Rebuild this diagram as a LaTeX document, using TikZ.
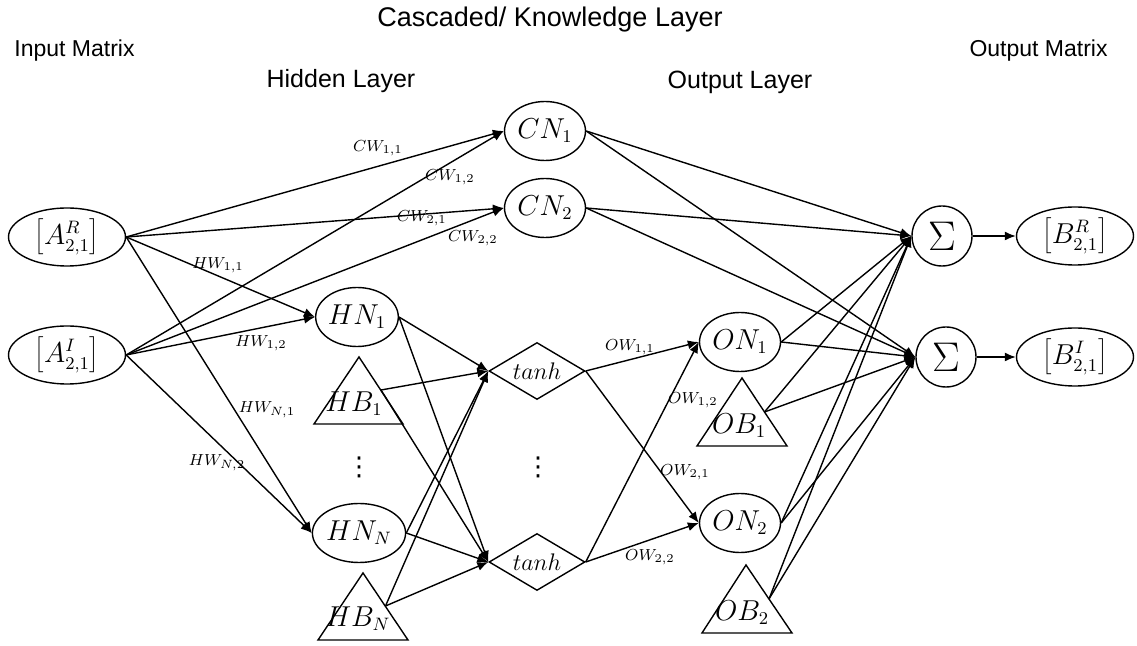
\documentclass[tikz,border=0pt]{standalone}
\usepackage[no-math]{fontspec}
\newfontfamily\arial{Liberation Sans}
\newfontfamily\dejavu{DejaVu Sans}
\usetikzlibrary{shapes.geometric,arrows.meta}
\tikzset{
  edge/.style={line width=0.7pt,-{Latex[length=5.5pt,width=4.5pt]}},
  ell/.style={ellipse,draw,line width=0.7pt,inner sep=0pt,font=\fontsize{13.5}{16}\selectfont},
  neuron/.style={ell,minimum width=40.5pt,minimum height=29.5pt},
  matbox/.style={ell,minimum width=58.5pt,minimum height=29pt},
  sumnode/.style={circle,draw,line width=0.7pt,inner sep=0pt,minimum size=30pt,font=\fontsize{20}{22}\selectfont},
  act/.style={diamond,draw,line width=0.7pt,inner sep=0pt,aspect=1.7,minimum width=48pt,minimum height=28.5pt,font=\fontsize{12.5}{14}\selectfont},
  tri/.style={draw,line width=0.7pt,line join=miter},
  trilabel/.style={inner sep=0pt,font=\fontsize{13.5}{16}\selectfont},
  wlabel/.style={inner sep=0pt,font=\fontsize{8.5}{10}\selectfont},
  head/.style={anchor=base,inner sep=0pt,font=\arial\fontsize{12.5}{15}\selectfont},
  dotsnode/.style={inner sep=0pt,font=\dejavu\fontsize{13}{15}\selectfont}
}
\begin{document}
\begin{tikzpicture}[x=0.5pt,y=-0.5pt]
\useasboundingbox (0,0) rectangle (1137,646);

% headings
\node[head,font=\arial\fontsize{13.5}{16}\selectfont] (hcasc) at (550,27) {Cascaded/ Knowledge Layer};
\node[head,anchor=base west,font=\arial\fontsize{11.5}{14}\selectfont] (hin) at (14,57) {Input Matrix};
\node[head,anchor=base east,font=\arial\fontsize{11.5}{14}\selectfont] (hout) at (1108,57) {Output Matrix};
\node[head] (hhid) at (341,88) {Hidden Layer};
\node[head] (hol) at (740,89) {Output Layer};

% input
\node[matbox] (AR) at (67,237) {$\left[A^{R}_{2,1}\right]$};
\node[matbox] (AI) at (67,355) {$\left[A^{I}_{2,1}\right]$};

% cascaded
\node[neuron] (CN1) at (545,131) {$CN_1$};
\node[neuron] (CN2) at (545,208) {$CN_2$};

% hidden
\node[neuron] (HN1) at (357,317) {$HN_1$};
\node[neuron] (HNN) at (359,533) {$HN_N$};
\draw[tri] (359,357) -- (403,424) -- (314,424) -- cycle;
\node[trilabel] (HB1l) at (354,404) {$HB_1$};
\coordinate (HB1) at (381,390);
\draw[tri] (363,573) -- (408,640) -- (318,640) -- cycle;
\node[trilabel] (HBNl) at (358,619) {$HB_N$};
\coordinate (HBN) at (385.5,606);
\node[dotsnode] (vd1) at (359,467) {⋮};

% activation
\node[act] (T1) at (537,371) {$tanh$};
\node[act] (TN) at (537,562) {$tanh$};
\node[dotsnode] (vd2) at (538,467) {⋮};

% output layer
\node[neuron] (ON1) at (740,342) {$ON_1$};
\node[neuron] (ON2) at (740,523) {$ON_2$};
\draw[tri] (742,378) -- (787,446) -- (697,446) -- cycle;
\node[trilabel] (OB1l) at (739,426) {$OB_1$};
\coordinate (OB1) at (764.5,412);
\draw[tri] (746,565) -- (792,633) -- (702,633) -- cycle;
\node[trilabel] (OB2l) at (742,613) {$OB_2$};
\coordinate (OB2) at (769,599);

% sums and outputs
\node[sumnode] (S1) at (942,236) {$\Sigma$};
\node[sumnode] (S2) at (946,357) {$\Sigma$};
\node[matbox] (BR) at (1075,236) {$\left[B^{R}_{2,1}\right]$};
\node[matbox] (BI) at (1075,357) {$\left[B^{I}_{2,1}\right]$};

% input -> cascaded
\draw[edge] (AR.east) -- (CN1.west);
\draw[edge] (AI.east) -- (CN1.west);
\draw[edge] (AR.east) -- (CN2.west);
\draw[edge] (AI.east) -- (CN2.west);
% input -> hidden
\draw[edge] (AR.east) -- (HN1.west);
\draw[edge] (AI.east) -- (HN1.west);
\draw[edge] (AR.east) -- (HNN.west);
\draw[edge] (AI.east) -- (HNN.west);

% weight labels
\node[wlabel] (cw11) at (378,148) {$CW_{1,1}$};
\node[wlabel] (cw12) at (450,177) {$CW_{1,2}$};
\node[wlabel] (cw21) at (422,218) {$CW_{2,1}$};
\node[wlabel] (cw22) at (473,238) {$CW_{2,2}$};
\node[wlabel] (hw11) at (218,265) {$HW_{1,1}$};
\node[wlabel] (hw12) at (261,343) {$HW_{1,2}$};
\node[wlabel] (hwn1) at (267,410) {$HW_{N,1}$};
\node[wlabel] (hwn2) at (217,463) {$HW_{N,2}$};
\node[wlabel] (ow11) at (630,347) {$OW_{1,1}$};
\node[wlabel] (ow12) at (693,400) {$OW_{1,2}$};
\node[wlabel] (ow21) at (685,472) {$OW_{2,1}$};
\node[wlabel] (ow22) at (650,557) {$OW_{2,2}$};

% hidden -> activation
\draw[edge] (HN1.east) -- (T1.west);
\draw[edge] (HN1.east) -- (TN.west);
\draw[edge] (HB1) -- (T1.west);
\draw[edge] (HB1) -- (TN.west);
\draw[edge] (HNN.east) -- (T1.west);
\draw[edge] (HNN.east) -- (TN.west);
\draw[edge] (HBN) -- (T1.west);
\draw[edge] (HBN) -- (TN.west);

% activation -> output layer
\draw[edge] (T1.east) -- (ON1.west);
\draw[edge] (T1.east) -- (ON2.west);
\draw[edge] (TN.east) -- (ON1.west);
\draw[edge] (TN.east) -- (ON2.west);

% to sums
\draw[edge] (CN1.east) -- (S1.west);
\draw[edge] (CN1.east) -- (S2.west);
\draw[edge] (CN2.east) -- (S1.west);
\draw[edge] (CN2.east) -- (S2.west);
\draw[edge] (ON1.east) -- (S1.west);
\draw[edge] (ON1.east) -- (S2.west);
\draw[edge] (OB1) -- (S1.west);
\draw[edge] (OB1) -- (S2.west);
\draw[edge] (ON2.east) -- (S1.west);
\draw[edge] (ON2.east) -- (S2.west);
\draw[edge] (OB2) -- (S1.west);
\draw[edge] (OB2) -- (S2.west);

% sums -> outputs
\draw[edge] (S1.east) -- (BR.west);
\draw[edge] (S2.east) -- (BI.west);
\end{tikzpicture}
\end{document}
